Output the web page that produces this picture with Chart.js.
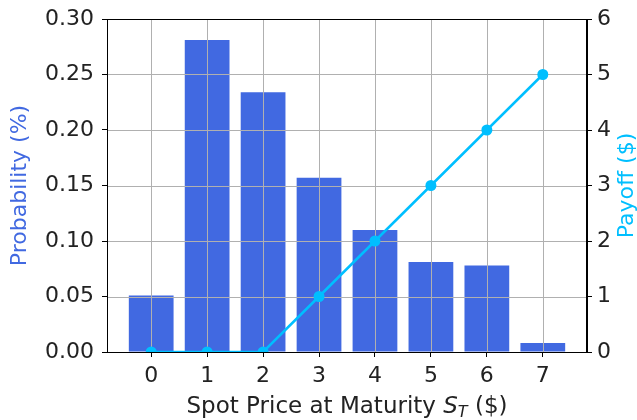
<!DOCTYPE html>
<html>
<head>
<meta charset="utf-8">
<script src="https://cdn.jsdelivr.net/npm/chart.js@4/dist/chart.umd.min.js"></script>
<style>
  html, body { margin: 0; padding: 0; background: #fff; }
  #wrap { width: 637px; height: 420px; }
</style>
</head>
<body>
<div id="wrap"><canvas id="graph" width="637" height="420"></canvas></div>
<script>
// Données
const prix = [0, 1, 2, 3, 4, 5, 6, 7];
const probabilite = [0.051, 0.281, 0.234, 0.157, 0.110, 0.081, 0.078, 0.008];
const payoff = [0, 0, 0, 1, 2, 3, 4, 5];
const ticksProba = [0, 0.05, 0.10, 0.15, 0.20, 0.25, 0.30];
const ticksPayoff = [0, 1, 2, 3, 4, 5, 6];

const BLEU = '#4169E1';
const CYAN = '#00BFFF';
const POLICE = 'DejaVu Sans';

// grille au-dessus des barres, sous la courbe (comme matplotlib)
const grillePlugin = {
  id: 'grille',
  afterDatasetDraw(chart, args) {
    if (args.index !== 0) return;
    const { ctx, chartArea: a, scales } = chart;
    ctx.save();
    ctx.strokeStyle = '#b0b0b0';
    ctx.lineWidth = 1;
    ctx.beginPath();
    prix.forEach(v => {
      const x = Math.round(scales.x.getPixelForValue(v)) + 0.5;
      ctx.moveTo(x, a.top); ctx.lineTo(x, a.bottom);
    });
    ticksProba.forEach(v => {
      const y = Math.round(scales.y.getPixelForValue(v)) + 0.5;
      ctx.moveTo(a.left, y); ctx.lineTo(a.right, y);
    });
    ctx.stroke();
    ctx.restore();
  }
};

// cadre + titres des axes
const titresPlugin = {
  id: 'titres',
  afterDraw(chart) {
    const { ctx, chartArea: a } = chart;
    ctx.save();
    ctx.strokeStyle = '#000';
    ctx.lineWidth = 1;
    ctx.strokeRect(Math.round(a.left) + 0.5, Math.round(a.top) + 0.5,
      Math.round(a.right - a.left) - 1, Math.round(a.bottom - a.top));

    // titre x avec S_T
    const cx = (a.left + a.right) / 2;
    const yBase = 413;
    const parts = [
      { t: 'Spot Price at Maturity ', f: '23px "' + POLICE + '"', dy: 0 },
      { t: 'S', f: 'italic 23px "' + POLICE + '"', dy: 0 },
      { t: 'T', f: 'italic 16px "' + POLICE + '"', dy: 4 },
      { t: ' ($)', f: '23px "' + POLICE + '"', dy: 0 }
    ];
    let total = 0;
    parts.forEach(p => { ctx.font = p.f; p.w = ctx.measureText(p.t).width; total += p.w; });
    let x = cx - total / 2;
    ctx.fillStyle = '#222';
    ctx.textAlign = 'left';
    ctx.textBaseline = 'alphabetic';
    parts.forEach(p => { ctx.font = p.f; ctx.fillText(p.t, x, yBase + p.dy); x += p.w; });

    const cy = (a.top + a.bottom) / 2;
    ctx.font = '22px "' + POLICE + '"';
    ctx.textAlign = 'center';
    ctx.textBaseline = 'middle';
    ctx.save();
    ctx.translate(20, cy); ctx.rotate(-Math.PI / 2);
    ctx.fillStyle = BLEU; ctx.fillText('Probability (%)', 0, 0);
    ctx.restore();
    ctx.save();
    ctx.translate(627, cy); ctx.rotate(-Math.PI / 2);
    ctx.fillStyle = CYAN; ctx.fillText('Payoff ($)', 0, 0);
    ctx.restore();
    ctx.restore();
  }
};

const tickFont = { family: POLICE, size: 22 };

const fitVertical = w => s => { s.width = w; s.paddingTop = 0; s.paddingBottom = 0; };

const chart = new Chart(document.getElementById('graph').getContext('2d'), {
  type: 'bar',
  data: {
    datasets: [
      {
        type: 'bar',
        label: 'Probabilité',
        data: prix.map((p, i) => ({ x: p, y: probabilite[i] })),
        backgroundColor: BLEU,
        borderWidth: 0,
        barPercentage: 0.8,
        categoryPercentage: 1.0,
        yAxisID: 'y',
        order: 1
      },
      {
        type: 'line',
        label: 'Payoff',
        data: prix.map((p, i) => ({ x: p, y: payoff[i] })),
        borderColor: CYAN,
        backgroundColor: CYAN,
        borderWidth: 2.5,
        pointRadius: 5.5,
        pointHoverRadius: 5.5,
        pointBorderWidth: 0,
        tension: 0,
        fill: false,
        clip: 0,
        yAxisID: 'y2',
        order: 0
      }
    ]
  },
  options: {
    responsive: false,
    animation: false,
    layout: { padding: { top: 19, left: 0, right: 0, bottom: 0 } },
    plugins: { legend: { display: false }, tooltip: { enabled: false } },
    scales: {
      x: {
        type: 'linear',
        offset: false,
        min: -0.79,
        max: 7.79,
        afterBuildTicks: s => { s.ticks = prix.map(v => ({ value: v })); },
        afterFit: s => { s.height = 68; s.paddingLeft = 0; s.paddingRight = 0; },
        grid: { offset: false, drawOnChartArea: false, tickLength: 5, tickColor: '#000' },
        border: { color: '#000' },
        ticks: { font: tickFont, color: '#222', padding: 6, maxRotation: 0, callback: v => String(v) }
      },
      y: {
        position: 'left',
        min: 0,
        max: 0.3,
        afterBuildTicks: s => { s.ticks = ticksProba.map(v => ({ value: v })); },
        afterFit: fitVertical(107),
        grid: { drawOnChartArea: false, tickLength: 5, tickColor: '#000' },
        border: { color: '#000' },
        ticks: { font: tickFont, color: '#222', padding: 8, callback: v => v.toFixed(2) }
      },
      y2: {
        position: 'right',
        min: 0,
        max: 6,
        afterBuildTicks: s => { s.ticks = ticksPayoff.map(v => ({ value: v })); },
        afterFit: fitVertical(50),
        grid: { drawOnChartArea: false, tickLength: 5, tickColor: '#000' },
        border: { color: '#000' },
        ticks: { font: tickFont, color: '#222', padding: 5, callback: v => String(v) }
      }
    }
  },
  plugins: [grillePlugin, titresPlugin]
});
</script>
</body>
</html>
